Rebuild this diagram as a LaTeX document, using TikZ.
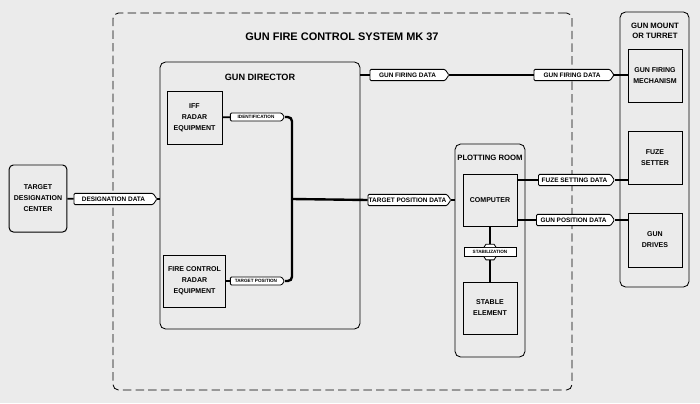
\documentclass[tikz,border=0pt]{standalone}
\usepackage{fontspec}
\setmainfont{Liberation Sans}
\usetikzlibrary{calc, positioning, shapes.symbols}
\tikzset{
    block/.style={rectangle, draw=black, line width=0.7pt, text centered, align=center, font=\bfseries\fontsize{5}{7.8}\selectfont},
    frame/.style={rectangle, rounded corners=4pt, draw=black, line width=0.6pt},
    tag/.style={signal, signal to=east, signal pointer angle=110, draw=black, fill=white, line width=0.6pt, rounded corners=0.8pt, inner sep=0.5pt, minimum height=0.28cm, text centered, font=\bfseries\fontsize{4.6}{5}\selectfont},
    small_tag/.style={tag, minimum height=0.2cm, font=\bfseries\fontsize{3.3}{4}\selectfont},
    line/.style={line width=1.3pt},
    heavy_line/.style={line width=1.7pt, rounded corners=3pt},
    label_text/.style={text centered, align=center, font=\bfseries\fontsize{5.5}{7}\selectfont},
}

\begin{document}
\begin{tikzpicture}[x=0.025cm, y=-0.025cm]
      \useasboundingbox [fill=black!8] (0,0) rectangle (700,403);
      %%%%%%%%%%
      % Frames %
      %%%%%%%%%%
      \node (system) [frame, dashed, dash pattern=on 6pt off 3pt, minimum width=11.475cm, minimum height=9.425cm] at (342.5,201.5) {};
      \node (title) [label_text, font=\bfseries\fontsize{7.8}{9}\selectfont] at (342,37)
          {GUN FIRE CONTROL SYSTEM MK 37};
      \node (director) [frame, minimum width=5cm, minimum height=6.675cm] at (260,195.5) {};
      \node (director_label) [label_text, font=\bfseries\fontsize{6.5}{8}\selectfont] at (260,77)
          {GUN DIRECTOR};
      \node (plotting) [frame, minimum width=1.75cm, minimum height=5.325cm] at (490,250.5) {};
      \node (plotting_label) [label_text] at (490,158)
          {PLOTTING ROOM};
      \node (mount) [frame, minimum width=1.725cm, minimum height=6.875cm] at (654.5,149.5) {};
      \node (mount_label) [label_text] at (655,31)
          {GUN MOUNT\\OR TURRET};

      %%%%%%%%%%
      % Blocks %
      %%%%%%%%%%
      \node (designation) [block, rounded corners=3pt, minimum width=1.3cm, minimum height=1.675cm] at (38,198.5)
          {TARGET\\DESIGNATION\\CENTER};
      \node (iff) [block, minimum width=1.375cm, minimum height=1.325cm] at (194.5,117.5)
          {IFF\\RADAR\\EQUIPMENT};
      \node (fcr) [block, minimum width=1.375cm, minimum height=1.3cm] at (194.5,281)
          {FIRE CONTROL\\RADAR\\EQUIPMENT};
      \node (computer) [block, minimum width=1.35cm, minimum height=1.3cm] at (490,200)
          {COMPUTER};
      \node (stable) [block, minimum width=1.35cm, minimum height=1.3cm] at (490,308)
          {STABLE\\ELEMENT};
      \node (firing) [block, minimum width=1.35cm, minimum height=1.325cm] at (655,75.5)
          {GUN FIRING\\MECHANISM};
      \node (fuze) [block, minimum width=1.35cm, minimum height=1.325cm] at (655,157.5)
          {FUZE\\SETTER};
      \node (drives) [block, minimum width=1.35cm, minimum height=1.35cm] at (655,240)
          {GUN\\DRIVES};

      %%%%%%%%
      % Tags %
      %%%%%%%%
      \node (designation_data) [tag, minimum width=2.075cm] at (113.5,199)
          {DESIGNATION DATA};
      \node (firing_data_a) [tag, minimum width=1.975cm] at (407.5,75)
          {GUN FIRING DATA};
      \node (firing_data_b) [tag, minimum width=2cm] at (572,75)
          {GUN FIRING DATA};
      \node (identification) [small_tag, minimum width=1.35cm] at (256,117)
          {IDENTIFICATION};
      \node (target_position) [small_tag, minimum width=1.35cm] at (256,281)
          {TARGET POSITION};
      \node (position_data) [tag, minimum width=2.025cm] at (407.5,200)
          {TARGET POSITION DATA};
      \node (fuze_data) [tag, minimum width=1.9cm] at (574.5,180)
          {FUZE SETTING DATA};
      \node (gun_position) [tag, minimum width=1.95cm] at (573.5,220)
          {GUN POSITION DATA};
      \node (stabilization) [rectangle, draw=black, fill=white, line width=0.6pt, inner sep=0.5pt, minimum width=1.3cm, minimum height=0.22cm, font=\bfseries\fontsize{3.3}{4}\selectfont] at (490,252)
          {STABILIZATION};
      \coordinate (junction) at (292,199);

      %%%%%%%%%%%%%%
      % Connectors %
      %%%%%%%%%%%%%%
      \draw [line] (designation) -- (designation_data);
      \draw [line] (designation_data.east) -- (designation_data.east -| director.west);
      \draw [line] (firing_data_a.west -| director.east) -- (firing_data_a.west);
      \draw [line] (firing_data_a.east) -- (firing_data_b.west);
      \draw [line] (firing_data_b.east) -- (firing_data_b.east -| firing.west);
      \draw [line] (iff) -- (identification);
      \draw [line] (fcr) -- (target_position);
      \draw [heavy_line] (identification.east) -| (junction);
      \draw [heavy_line] (target_position.east) -| (junction);
      \draw [heavy_line] (junction) -- (position_data.west);
      \draw [line] (position_data.east) -- (position_data.east -| plotting.west);
      \draw [line] (fuze_data.west -| computer.east) -- (fuze_data.west);
      \draw [line] (fuze_data.east) -- (fuze_data.east -| fuze.west);
      \draw [line] (gun_position.west -| computer.east) -- (gun_position.west);
      \draw [line] (gun_position.east) -- (gun_position.east -| drives.west);
      \draw [line width=0.6pt, fill=white] ($(stabilization.north)+(-6,0)$) -- ++(2,-3) -- ++(8,0) -- ++(2,3);
      \draw [line width=0.6pt, fill=white] ($(stabilization.south)+(-6,0)$) -- ++(2,3) -- ++(8,0) -- ++(2,-3);
      \draw [line] (stabilization.north) ++(0,-3) -- (computer.south);
      \draw [line] (stabilization.south) ++(0,3) -- (stable.north);
\end{tikzpicture}
\end{document}
